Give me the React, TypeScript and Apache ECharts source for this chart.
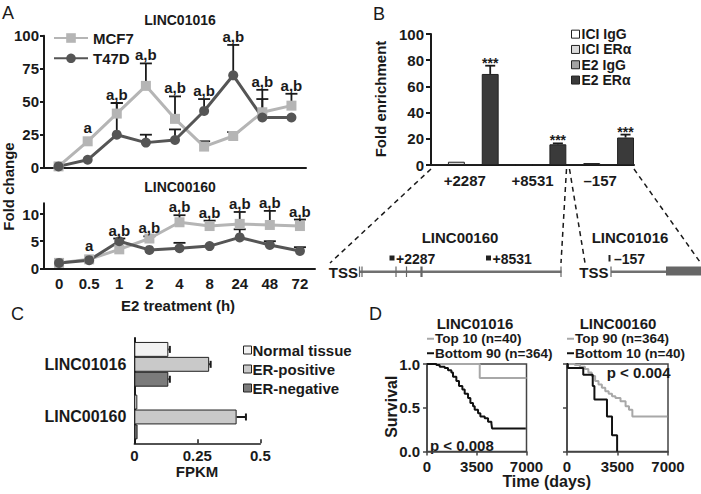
import React, { useEffect, useRef } from "react";
import * as echarts from "echarts";

const FONT = '"Liberation Sans", Arial, Helvetica, sans-serif';
const INK = "#1a1a1a";

// ---------- Panel A ----------
const timeLabels = ["0", "0.5", "1", "2", "4", "8", "24", "48", "72"];
const sigLabels = ["", "a", "a,b", "a,b", "a,b", "a,b", "a,b", "a,b", "a,b"];
const l1016Mcf7 = [1, 20, 41, 62, 37, 16, 24, 42, 47];
const l1016Mcf7Err = [0, 0, 8, 17, 17, 4, 3, 17, 9];
const l1016T47d = [1, 6, 25, 19, 21, 43, 70, 38, 38];
const l1016T47dErr = [0, 0, 24, 6, 8, 9, 23, 14, 0];
const l0160Mcf7 = [1.0, 1.65, 3.5, 5.5, 8.5, 7.8, 8.2, 8.0, 7.8];
const l0160Mcf7Err = [0, 0, 0, 0.4, 1.3, 1.0, 2.2, 2.6, 1.2];
const l0160T47d = [1.0, 1.5, 5.0, 3.4, 3.7, 4.1, 5.7, 4.3, 3.2];
const l0160T47dErr = [0, 0, 0.5, 0, 1.0, 0, 1.5, 0.7, 0.7];
const aBottomTicks = [0, 5, 10];

// ---------- Panel B ----------
const chipSites = ["+2287", "+8531", "\u2013157"];
const iciIgG = [0.4, 0.3, 0.4];
const iciEra = [2.5, 0.3, 1.5];
const e2IgG = [0.4, 0.3, 0.4];
const e2Era = [69.5, 15.8, 21];
const e2EraErr = [6.3, 0.7, 2.2];
const chipStars = ["***", "***", "***"];

// ---------- Panel C ----------
const fpkmGenes = ["LINC01016", "LINC00160"];
const fpkmNormal = [0.135, 0.012];
const fpkmNormalErr = [0.006, 0];
const fpkmPos = [0.297, 0.406];
const fpkmPosErr = [0.006, 0.037];
const fpkmNeg = [0.135, 0.013];
const fpkmNegErr = [0.006, 0];

// ---------- Panel D (Kaplan-Meier: [days, survival]) ----------
const km1016Top10 = [[0, 1], [3710, 0.84], [7000, 0.84]];
const km1016Bottom90 = [
  [0, 1], [657, 0.988], [892, 0.969], [1244, 0.953], [1479, 0.93], [1713, 0.903],
  [1831, 0.853], [2065, 0.806], [2253, 0.748], [2488, 0.709], [2652, 0.659],
  [2887, 0.612], [3051, 0.554], [3239, 0.516], [3356, 0.477], [3591, 0.438],
  [3755, 0.399], [4060, 0.38], [4295, 0.341], [4530, 0.322], [4577, 0.264], [6950, 0.264],
];
const km0160Top90 = [
  [0, 1], [540, 0.988], [892, 0.969], [1244, 0.942], [1479, 0.903], [1713, 0.864],
  [1948, 0.806], [2183, 0.767], [2417, 0.729], [2652, 0.69], [2887, 0.659],
  [3121, 0.632], [3356, 0.612], [3708, 0.574], [4060, 0.516], [4295, 0.477],
  [4530, 0.399], [6950, 0.399],
];
const km0160Bottom10 = [
  [0, 1], [60, 0.953], [1127, 0.876], [1784, 0.748], [1900, 0.593],
  [2770, 0.399], [3121, 0.186], [3474, 0],
];

const MCF7_COLOR = "#b5b5b5";
const T47D_COLOR = "#555555";

function txt(text: string, x: number, y: number, size: number, opts: any = {}) {
  return {
    type: "text",
    x,
    y,
    rotation: opts.rotation || 0,
    style: {
      text,
      x: 0,
      y: 0,
      font: `${opts.weight || "bold"} ${size}px ${FONT}`,
      fill: INK,
      align: opts.align || "center",
      verticalAlign: opts.valign || "middle",
    },
  };
}

function vErr(vals: number[], errs: number[], idx: number, capHalf: number) {
  return {
    type: "custom",
    xAxisIndex: idx,
    yAxisIndex: idx,
    z: 1,
    data: vals.map((v, i) => [i, v, errs[i]]),
    renderItem: (_p: any, api: any) => {
      const i = api.value(0);
      const v = api.value(1);
      const e = api.value(2);
      if (!(e > 0)) return null;
      const p0 = api.coord([i, v]);
      const y1 = api.coord([i, v + e])[1];
      const st = { stroke: INK, lineWidth: 1.8 };
      return {
        type: "group",
        children: [
          { type: "line", shape: { x1: p0[0], y1: p0[1], x2: p0[0], y2: y1 }, style: st },
          { type: "line", shape: { x1: p0[0] - capHalf, y1, x2: p0[0] + capHalf, y2: y1 }, style: st },
        ],
      };
    },
  };
}

function sigSeries(idx: number, pairs: [number[], number[]][]) {
  return {
    type: "custom",
    xAxisIndex: idx,
    yAxisIndex: idx,
    z: 4,
    data: timeLabels.map((_, i) => [i, 0]),
    renderItem: (_p: any, api: any) => {
      const i = api.value(0);
      if (!sigLabels[i]) return null;
      let top = Infinity;
      pairs.forEach(([vals, errs]) => {
        const y = errs[i] > 0 ? api.coord([i, vals[i] + errs[i]])[1] : api.coord([i, vals[i]])[1] - 5;
        top = Math.min(top, y);
      });
      const x = api.coord([i, 0])[0];
      return {
        type: "text",
        style: {
          text: sigLabels[i],
          x,
          y: top - 1,
          align: "center",
          verticalAlign: "bottom",
          font: `bold 15px ${FONT}`,
          fill: INK,
        },
      };
    },
  };
}

function lineSeries(name: string, data: number[], idx: number, color: string, symbol: string) {
  return {
    type: "line",
    name,
    xAxisIndex: idx,
    yAxisIndex: idx,
    z: 2,
    data,
    symbol,
    symbolSize: 10,
    itemStyle: { color },
    lineStyle: { color, width: 3 },
  };
}

const axisLineStyle = { lineStyle: { color: INK, width: 2 } };
const labelStyle = (size: number, margin: number) => ({
  fontSize: size,
  fontWeight: "bold",
  fontFamily: FONT,
  color: INK,
  margin,
});

export default function App() {
  const ref = useRef<HTMLDivElement>(null);

  useEffect(() => {
    if (!ref.current) return;
    const chart = echarts.init(ref.current, undefined, { renderer: "svg" });

    const barBorder = { borderColor: "#222", borderWidth: 1 };
    const kmLegendText = { fontSize: 13.5, fontWeight: "bold", color: INK, fontFamily: FONT, lineHeight: 14.5, padding: [0, 0, 0, -4] };

    const option: any = {
      animation: false,
      backgroundColor: "#ffffff",
      textStyle: { fontFamily: FONT },
      grid: [
        { left: 44, top: 35.7, width: 262, height: 132 },
        { left: 44, top: 203.3, width: 271, height: 65 },
        { left: 431, top: 34, width: 203, height: 131 },
        { left: 134.3, top: 338, width: 126, height: 105.3 },
        { left: 427, top: 364, width: 99.5, height: 87.5, show: true, borderColor: "#444", borderWidth: 1.5 },
        { left: 567, top: 364, width: 101, height: 87.5, show: true, borderColor: "#444", borderWidth: 1.5 },
      ],
      xAxis: [
        {
          gridIndex: 0, type: "category", data: timeLabels, boundaryGap: true,
          axisLine: axisLineStyle,
          axisTick: { alignWithLabel: true, length: 5, lineStyle: { color: INK, width: 2 } },
          axisLabel: { show: false },
        },
        {
          gridIndex: 1, type: "category", data: timeLabels, boundaryGap: true,
          axisLine: axisLineStyle,
          axisTick: { alignWithLabel: true, length: 5, lineStyle: { color: INK, width: 2 } },
          axisLabel: labelStyle(15, 8),
        },
        {
          gridIndex: 2, type: "category", data: chipSites, boundaryGap: true,
          axisLine: axisLineStyle,
          axisTick: { show: false },
          axisLabel: labelStyle(15, 8),
        },
        {
          gridIndex: 3, type: "value", min: 0, max: 0.5, interval: 0.25,
          axisLine: { show: true, lineStyle: { color: INK, width: 1.5 } },
          axisTick: { show: true, inside: true, length: 4, lineStyle: { color: INK, width: 1.5 } },
          axisLabel: labelStyle(15, 5),
          splitLine: { show: false },
        },
        {
          gridIndex: 4, type: "value", min: 0, max: 7000, interval: 3500,
          axisLine: { show: true, lineStyle: { color: "#444", width: 1.5 } },
          axisTick: { show: true, length: 4, lineStyle: { color: "#444", width: 1.5 } },
          axisLabel: { ...labelStyle(15, 7), formatter: (v: number) => String(v) },
          splitLine: { show: false },
        },
        {
          gridIndex: 5, type: "value", min: 0, max: 7000, interval: 3500,
          axisLine: { show: true, lineStyle: { color: "#444", width: 1.5 } },
          axisTick: { show: true, length: 4, lineStyle: { color: "#444", width: 1.5 } },
          axisLabel: { ...labelStyle(15, 7), formatter: (v: number) => String(v) },
          splitLine: { show: false },
        },
      ],
      yAxis: [
        {
          gridIndex: 0, type: "value", min: 0, max: 100, interval: 25,
          axisLine: { show: true, ...axisLineStyle },
          axisTick: { show: true, length: 4, lineStyle: { color: INK, width: 2 } },
          axisLabel: labelStyle(15, 5),
          splitLine: { show: false },
        },
        {
          gridIndex: 1, type: "value", min: 0, max: 12,
          axisLine: { show: true, ...axisLineStyle },
          axisTick: { show: true, length: 4, lineStyle: { color: INK, width: 2 }, customValues: aBottomTicks },
          axisLabel: { ...labelStyle(15, 5), customValues: aBottomTicks },
          splitLine: { show: false },
        },
        {
          gridIndex: 2, type: "value", min: 0, max: 100, interval: 20,
          axisLine: { show: true, ...axisLineStyle },
          axisTick: { show: true, length: 5, lineStyle: { color: INK, width: 2 } },
          axisLabel: labelStyle(15, 7),
          splitLine: { show: false },
        },
        {
          gridIndex: 3, type: "category", data: fpkmGenes, inverse: true,
          axisLine: axisLineStyle,
          axisTick: { alignWithLabel: true, length: 5, lineStyle: { color: INK, width: 2 } },
          axisLabel: labelStyle(16, 8),
        },
        {
          gridIndex: 4, type: "value", min: 0, max: 1, interval: 0.5,
          axisLine: { show: true, lineStyle: { color: "#444", width: 1.5 } },
          axisTick: { show: true, length: 4, lineStyle: { color: "#444", width: 1.5 } },
          axisLabel: { ...labelStyle(15, 7), formatter: (v: number) => v.toFixed(1) },
          splitLine: { show: false },
        },
        {
          gridIndex: 5, type: "value", min: 0, max: 1, interval: 0.5,
          axisLine: { show: true, lineStyle: { color: "#444", width: 1.5 } },
          axisTick: { show: true, length: 4, lineStyle: { color: "#444", width: 1.5 } },
          axisLabel: { show: false },
          splitLine: { show: false },
        },
      ],
      legend: [
        {
          data: ["MCF7", "T47D"], left: 53, top: 29, orient: "vertical", padding: 0,
          itemWidth: 34, itemHeight: 12, itemGap: 2.3,
          textStyle: { fontSize: 15, fontWeight: "bold", color: INK, fontFamily: FONT, lineHeight: 18 },
        },
        {
          data: ["ICI IgG", "ICI ER\u03b1", "E2 IgG", "E2 ER\u03b1"], left: 571, top: 26.5, orient: "vertical",
          padding: 0, icon: "rect", itemWidth: 8, itemHeight: 8, itemGap: 0,
          itemStyle: { borderColor: "#222", borderWidth: 1 },
          textStyle: { fontSize: 14, fontWeight: "bold", color: INK, fontFamily: FONT, lineHeight: 15.3, padding: [0, 0, 0, -3] },
        },
        {
          data: ["Normal tissue", "ER-positive", "ER-negative"], left: 243, top: 340.5, orient: "vertical",
          padding: 0, icon: "rect", itemWidth: 8, itemHeight: 8, itemGap: 0,
          itemStyle: { borderColor: "#222", borderWidth: 1 },
          textStyle: { fontSize: 15, fontWeight: "bold", color: INK, fontFamily: FONT, lineHeight: 19, padding: [0, 0, 0, -4] },
        },
        {
          data: ["Top 10 (n=40)", "Bottom 90 (n=364)"], left: 427, top: 331.5, orient: "vertical",
          padding: 0, icon: "rect", itemWidth: 7, itemHeight: 2, itemGap: 0,
          textStyle: kmLegendText,
        },
        {
          data: ["Top 90 (n=364)", "Bottom 10 (n=40)"], left: 567, top: 331.5, orient: "vertical",
          padding: 0, icon: "rect", itemWidth: 7, itemHeight: 2, itemGap: 0,
          textStyle: kmLegendText,
        },
      ],
      series: [
        // Panel A top
        vErr(l1016Mcf7, l1016Mcf7Err, 0, 6),
        vErr(l1016T47d, l1016T47dErr, 0, 6),
        lineSeries("MCF7", l1016Mcf7, 0, MCF7_COLOR, "rect"),
        lineSeries("T47D", l1016T47d, 0, T47D_COLOR, "circle"),
        sigSeries(0, [[l1016Mcf7, l1016Mcf7Err], [l1016T47d, l1016T47dErr]]),
        // Panel A bottom
        vErr(l0160Mcf7, l0160Mcf7Err, 1, 6),
        vErr(l0160T47d, l0160T47dErr, 1, 6),
        lineSeries("MCF7", l0160Mcf7, 1, MCF7_COLOR, "rect"),
        lineSeries("T47D", l0160T47d, 1, T47D_COLOR, "circle"),
        sigSeries(1, [[l0160Mcf7, l0160Mcf7Err], [l0160T47d, l0160T47dErr]]),
        // Panel B
        ...[
          ["ICI IgG", iciIgG, "#ffffff"],
          ["ICI ER\u03b1", iciEra, "#dadada"],
          ["E2 IgG", e2IgG, "#a3a3a3"],
          ["E2 ER\u03b1", e2Era, "#3a3a3a"],
        ].map(([name, data, color]) => ({
          type: "bar", name, data, xAxisIndex: 2, yAxisIndex: 2,
          barGap: "0%", barCategoryGap: "0%",
          itemStyle: { color, ...barBorder },
        })),
        {
          type: "custom", xAxisIndex: 2, yAxisIndex: 2, z: 3,
          data: chipSites.map((_, i) => [i, e2Era[i], e2EraErr[i]]),
          renderItem: (_p: any, api: any) => {
            const i = api.value(0);
            const v = api.value(1);
            const e = api.value(2);
            const band = api.size([1, 0])[0];
            const cx = api.coord([i, 0])[0] - band / 2 + (band / 4) * 3.5;
            const y0 = api.coord([i, v])[1];
            const y1 = api.coord([i, v + e])[1];
            const st = { stroke: INK, lineWidth: 1.8 };
            return {
              type: "group",
              children: [
                { type: "line", shape: { x1: cx, y1: y0, x2: cx, y2: y1 }, style: st },
                { type: "line", shape: { x1: cx - 5, y1, x2: cx + 5, y2: y1 }, style: st },
                {
                  type: "text",
                  style: {
                    text: chipStars[i], x: cx, y: y1 + 4, align: "center", verticalAlign: "bottom",
                    font: `bold 14px ${FONT}`, fill: INK,
                  },
                },
              ],
            };
          },
        },
        // Panel C
        ...[
          ["Normal tissue", fpkmNormal, "#f2f2f2"],
          ["ER-positive", fpkmPos, "#c9c9c9"],
          ["ER-negative", fpkmNeg, "#7b7b7b"],
        ].map(([name, data, color]) => ({
          type: "bar", name, data, xAxisIndex: 3, yAxisIndex: 3,
          barGap: "0%", barCategoryGap: "15%",
          itemStyle: { color, ...barBorder },
        })),
        {
          type: "custom", xAxisIndex: 3, yAxisIndex: 3, z: 3,
          data: [
            ...fpkmGenes.map((_, i) => [fpkmNormal[i], fpkmNormalErr[i], i, 0]),
            ...fpkmGenes.map((_, i) => [fpkmPos[i], fpkmPosErr[i], i, 1]),
            ...fpkmGenes.map((_, i) => [fpkmNeg[i], fpkmNegErr[i], i, 2]),
          ],
          encode: { x: 0, y: 2 },
          renderItem: (_p: any, api: any) => {
            const v = api.value(0);
            const e = api.value(1);
            const i = api.value(2);
            const k = api.value(3);
            if (!(e > 0)) return null;
            const band = api.size([0, 1])[1];
            const group = band * 0.85;
            const bw = group / 3;
            const cy = api.coord([0, i])[1] - group / 2 + bw * (k + 0.5);
            const x0 = api.coord([v, i])[0];
            const x1 = api.coord([v + e, i])[0];
            const st = { stroke: INK, lineWidth: 2 };
            return {
              type: "group",
              children: [
                { type: "line", shape: { x1: x0, y1: cy, x2: x1, y2: cy }, style: st },
                { type: "line", shape: { x1, y1: cy - 3.5, x2: x1, y2: cy + 3.5 }, style: st },
              ],
            };
          },
        },
        // Panel D
        {
          type: "line", name: "Top 10 (n=40)", data: km1016Top10, xAxisIndex: 4, yAxisIndex: 4,
          step: "end", showSymbol: false, itemStyle: { color: "#a8a8a8" }, lineStyle: { color: "#a8a8a8", width: 2 },
        },
        {
          type: "line", name: "Bottom 90 (n=364)", data: km1016Bottom90, xAxisIndex: 4, yAxisIndex: 4,
          step: "end", showSymbol: false, itemStyle: { color: "#111" }, lineStyle: { color: "#111", width: 2 },
        },
        {
          type: "line", name: "Top 90 (n=364)", data: km0160Top90, xAxisIndex: 5, yAxisIndex: 5,
          step: "end", showSymbol: false, itemStyle: { color: "#a8a8a8" }, lineStyle: { color: "#a8a8a8", width: 2 },
        },
        {
          type: "line", name: "Bottom 10 (n=40)", data: km0160Bottom10, xAxisIndex: 5, yAxisIndex: 5,
          step: "end", showSymbol: false, itemStyle: { color: "#111" }, lineStyle: { color: "#111", width: 2 },
        },
      ],
      graphic: {
        elements: [
          // panel letters
          txt("A", 2, 4, 18, { weight: "normal", align: "left", valign: "top" }),
          txt("B", 373, 5, 18, { weight: "normal", align: "left", valign: "top" }),
          txt("C", 11, 305, 18, { weight: "normal", align: "left", valign: "top" }),
          txt("D", 369, 305, 18, { weight: "normal", align: "left", valign: "top" }),
          // titles
          txt("LINC01016", 180, 20, 14),
          txt("LINC00160", 180, 187, 14),
          txt("LINC01016", 475, 323, 15),
          txt("LINC00160", 618, 323, 15),
          // axis titles
          txt("Fold change", 8, 186.5, 15, { rotation: Math.PI / 2 }),
          txt("E2 treatment (h)", 178, 305, 15),
          txt("Fold enrichment", 380, 99, 15, { rotation: Math.PI / 2 }),
          txt("FPKM", 197, 471.7, 15),
          txt("Survival", 391.7, 406.7, 16, { rotation: Math.PI / 2 }),
          txt("Time (days)", 546.7, 481.7, 16),
          txt("p < 0.008", 430, 445, 15, { align: "left" }),
          txt("p < 0.004", 606.7, 372.7, 15, { align: "left" }),
          // dashed connectors
          ...[
            [431, 169, 330, 263],
            [566.5, 169, 561, 263],
            [569.5, 169, 585, 263],
            [634, 169, 700, 262],
          ].map(([x1, y1, x2, y2]) => ({
            type: "line",
            shape: { x1, y1, x2, y2 },
            style: { stroke: INK, lineWidth: 1.5, lineDash: [5, 4] },
          })),
          // gene LINC00160
          txt("LINC00160", 460, 237, 15),
          txt("TSS", 358, 272, 15, { align: "right" }),
          { type: "rect", shape: { x: 359, y: 270.5, width: 202.5, height: 2.5 }, style: { fill: "#707070" } },
          ...[[359.5, 1.2], [362, 1.2], [396, 1.2], [406.5, 1.2], [421.5, 2.2], [561, 1.2]].map(([x, w]) => ({
            type: "line",
            shape: { x1: x, y1: 266.5, x2: x, y2: 277 },
            style: { stroke: "#666", lineWidth: w },
          })),
          { type: "rect", shape: { x: 389.5, y: 255.5, width: 5, height: 5 }, style: { fill: "#222" } },
          txt("+2287", 396, 258.5, 14, { align: "left" }),
          { type: "rect", shape: { x: 486, y: 255.5, width: 5, height: 5 }, style: { fill: "#222" } },
          txt("+8531", 492.5, 258.5, 14, { align: "left" }),
          // gene LINC01016
          txt("LINC01016", 630, 237, 15),
          txt("TSS", 608.5, 272, 15, { align: "right" }),
          { type: "line", shape: { x1: 611, y1: 266.5, x2: 611, y2: 277 }, style: { stroke: "#666", lineWidth: 1.2 } },
          { type: "rect", shape: { x: 611, y: 270.5, width: 56, height: 2.5 }, style: { fill: "#707070" } },
          { type: "rect", shape: { x: 666, y: 266.5, width: 35, height: 9 }, style: { fill: "#666" } },
          { type: "line", shape: { x1: 609.5, y1: 255, x2: 609.5, y2: 261.5 }, style: { stroke: "#222", lineWidth: 2 } },
          txt("\u2013157", 614, 258.5, 14, { align: "left" }),
        ],
      },
    };

    chart.setOption(option);
    return () => chart.dispose();
  }, []);

  return (
    <div
      ref={ref}
      style={{ position: "absolute", left: 0, top: 0, width: 701, height: 494, background: "#fff" }}
    />
  );
}
